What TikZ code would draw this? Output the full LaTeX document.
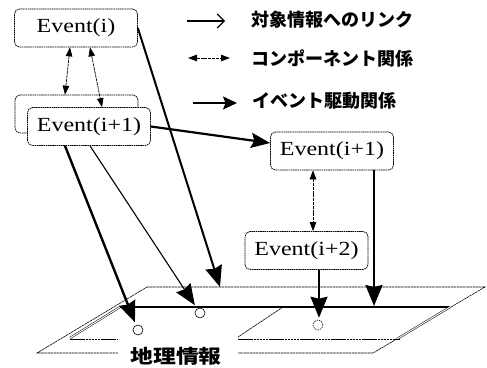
\documentclass[tikz,border=0pt]{standalone}
\usepackage{fontspec}
\usepackage{graphicx}
\usetikzlibrary{arrows.meta,calc}
\newfontfamily\evfont{Liberation Serif}
\newfontfamily\jpfont{Noto Sans CJK JP}
\newcommand{\evtext}[1]{\scalebox{1.2}[1]{\evfont\fontsize{20}{22}\selectfont #1}}
\begin{document}
\begin{tikzpicture}[x=1pt,y=-1pt,
  evbox/.style={draw, rounded corners=5pt, line width=0.7pt, dash pattern=on 1.6pt off 0.6pt,
    minimum width=123pt, minimum height=38pt, inner sep=0pt, fill=white},
  legtext/.style={anchor=west, inner sep=0pt, font=\jpfont\bfseries\fontsize{18}{18}\selectfont},
  spot/.style={circle, draw, minimum size=10pt, inner sep=0pt, line width=0.6pt, fill=white},
  bighead/.style={-{Triangle[length=21pt,width=17pt,inset=2pt]}},
  link/.style={bighead, line width=2pt},
  thinlink/.style={bighead, line width=1.1pt},
  drive/.style={-{Triangle[length=19pt,width=15pt,inset=3pt]}, line width=2.2pt},
  comp/.style={{Triangle[length=9pt,width=6.5pt]}-{Triangle[length=9pt,width=6.5pt]}, line width=0.7pt, dash pattern=on 3pt off 0.8pt},
  plane/.style={line width=0.6pt, dash pattern=on 2.5pt off 0.6pt},
  dbl/.style={draw, double, double distance=1pt, line width=0.5pt}
]
\useasboundingbox (0,0) rectangle (487,367);

% ground planes
\draw[plane] (147,287) -- (485,287) -- (373,353) -- (238,353);
\draw[plane] (118,353) -- (37,353) -- (147,287);
\draw[line width=1.8pt] (120,307) -- (450,307);
\draw[dbl] (120,307) -- (70,338);
\draw[dbl] (450,307) -- (397,339);
\draw[plane] (70,339) -- (118,339);
\draw[plane] (238,339) -- (400,339);
\draw[plane] (283,307) -- (238,337);

% spots on the map
\node[spot] (c1) at (138,330) {};
\node[spot] (c2) at (200,313) {};
\node[spot, dash pattern=on 1.5pt off 1pt] (c3) at (318,325) {};
\coordinate (p3) at (220,287);
\coordinate (p4) at (374,306);

% event boxes
\node[evbox] (e0) at (76,28) {\evtext{Event(i)}};
\node[evbox] (e1b) at (76.5,114) {};
\node[evbox] (e1) at (89,126.5) {\evtext{Event(i+1)}};
\node[evbox] (e2) at (332,151) {\evtext{Event(i+1)}};
\node[evbox] (e3) at (306.5,250.5) {\evtext{Event(i+2)}};

% links to geographic information
\draw[link, line width=2.4pt, shorten >=3pt] ([xshift=-24pt]e1.south) -- (c1);
\draw[thinlink, shorten >=4pt] ([xshift=1pt]e1.south) -- (c2);
\draw[link] (e0.east) -- (p3);
\draw[link] ([xshift=42pt]e2.south) -- (p4);
\draw[link, shorten >=2pt] ([xshift=12.5pt]e3.south) -- ([xshift=1pt]c3.north);

% event-driven relation
\draw[drive] (e1.east) -- ([yshift=8pt]e2.west);

% component relations
\draw[comp] ([xshift=-6pt]e0.south) -- ([xshift=-11.5pt]e1b.north);
\draw[comp] ([xshift=14pt]e0.south) -- ([xshift=13pt]e1.north);
\draw[comp] ([xshift=-19pt]e2.south) -- ([xshift=6.5pt]e3.north);

% legend
\coordinate (l1a) at (187,21); \coordinate (l1b) at (225,21);
\coordinate (l2a) at (188,58); \coordinate (l2b) at (230,58);
\coordinate (l3a) at (193,103); \coordinate (l3b) at (237,103);
\draw[-{Straight Barb[length=7pt,width=14pt]}, line width=1.2pt] (l1a) -- (l1b);
\draw[comp, line width=1pt] (l2a) -- (l2b);
\draw[-{Triangle[length=14pt,width=13pt,inset=2.5pt]}, line width=1.6pt] (l3a) -- (l3b);
\node[legtext] (t1) at (251,20) {対象情報へのリンク};
\node[legtext] (t2) at (251,58) {コンポーネント関係};
\node[legtext] (t3) at (252,101) {イベント駆動関係};

% caption
\node[inner sep=0pt] (geo) at (176,356) {\scalebox{1.2}[1]{\jpfont\bfseries\fontsize{19}{19}\selectfont 地理情報}};
\end{tikzpicture}
\end{document}
